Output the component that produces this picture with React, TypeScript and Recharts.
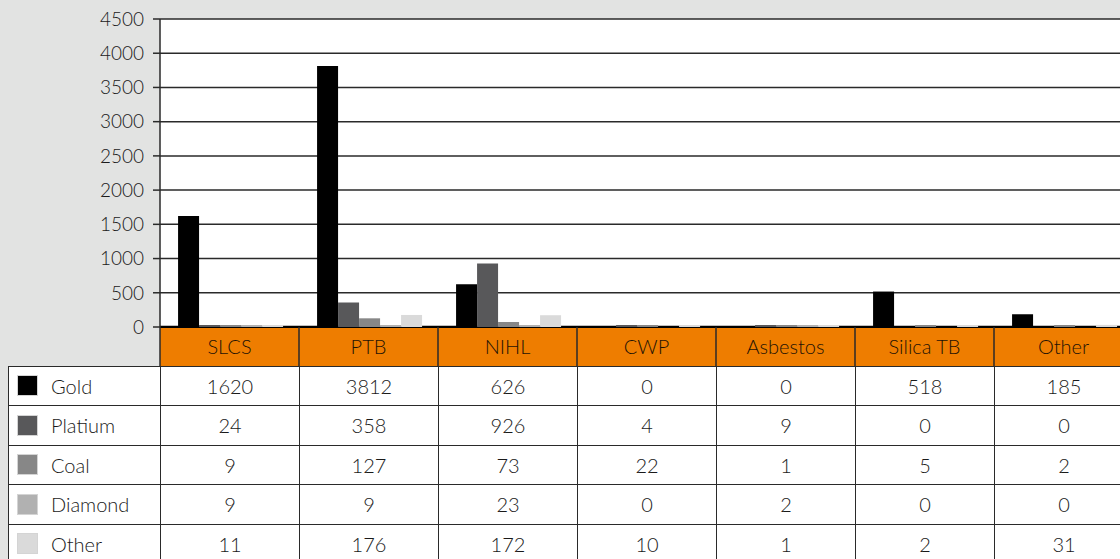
import { BarChart, Bar, XAxis, YAxis, CartesianGrid } from "recharts"

const diseases = ["SLCS", "PTB", "NIHL", "CWP", "Asbestos", "Silica TB", "Other"]
const gold = [1620, 3812, 626, 0, 0, 518, 185]
const platium = [24, 358, 926, 4, 9, 0, 0]
const coal = [9, 127, 73, 22, 1, 5, 2]
const diamond = [9, 9, 23, 0, 2, 0, 0]
const other = [11, 176, 172, 10, 1, 2, 31]
const yTicks = [0, 500, 1000, 1500, 2000, 2500, 3000, 3500, 4000, 4500]

const series = [
  { key: "gold", name: "Gold", values: gold, color: "#000000" },
  { key: "platium", name: "Platium", values: platium, color: "#58585a" },
  { key: "coal", name: "Coal", values: coal, color: "#878787" },
  { key: "diamond", name: "Diamond", values: diamond, color: "#b1b1b1" },
  { key: "other", name: "Other", values: other, color: "#dadada" },
]

const data = diseases.map((d, i) => {
  const row: Record<string, string | number> = { disease: d }
  series.forEach((s) => (row[s.key] = s.values[i]))
  return row
})

const FONT = "Lato, 'Open Sans', sans-serif"
const WEIGHT = 300
const TEXT = "#1a1a1a"
const LINE = "#2a2a2a"
const ORANGE = "#ee7d00"
const Y_AXIS_W = 160
const COL_W = 139
const HEADER_H = 40
const ROW_H = 39.5
const CHART_W = Y_AXIS_W + COL_W * diseases.length + 1

function HeaderTick(props: any) {
  const { x, y, payload } = props
  const left = x - COL_W / 2
  return (
    <g>
      <rect x={left} y={y + 1} width={COL_W} height={HEADER_H} fill={ORANGE} />
      <line x1={left} y1={y} x2={left} y2={y + HEADER_H} stroke={LINE} strokeWidth={1.5} />
      <text
        x={x}
        y={y + 27}
        textAnchor="middle"
        fill="#1f1305"
        fontSize={20}
        fontWeight={WEIGHT}
        fontFamily={FONT}
      >
        {payload.value}
      </text>
    </g>
  )
}

function GridLine(p: any) {
  const isBase = Math.abs(p.y1 - (p.y + p.height)) < 1
  return (
    <line
      key={`h-${p.index}`}
      x1={p.x1}
      y1={p.y1}
      x2={p.x2}
      y2={p.y2}
      stroke={isBase ? "#000" : LINE}
      strokeWidth={isBase ? 2.5 : 1.5}
    />
  )
}

const cell: React.CSSProperties = {
  width: COL_W,
  height: ROW_H,
  flex: "none",
  borderLeft: `1.5px solid ${LINE}`,
  borderTop: `1.5px solid ${LINE}`,
  boxSizing: "border-box",
  display: "flex",
  alignItems: "center",
  justifyContent: "center",
  fontSize: 20,
  fontWeight: WEIGHT,
  color: TEXT,
  background: "#fff",
}

export default function App() {
  return (
    <div
      style={{
        position: "fixed",
        left: 0,
        top: 0,
        width: 1120,
        height: 559,
        overflow: "hidden",
        background: "#e2e3e2",
        fontFamily: FONT,
      }}
    >
      <BarChart
        width={CHART_W}
        height={367}
        data={data}
        margin={{ top: 19, right: 1, left: 0, bottom: 0 }}
        barCategoryGap="13%"
        barGap={0}
      >
        <CartesianGrid vertical={false} fill="#fff" horizontal={GridLine} />
        <XAxis
          dataKey="disease"
          height={HEADER_H}
          axisLine={false}
          tickLine={false}
          tickSize={0}
          tickMargin={0}
          interval={0}
          tick={<HeaderTick />}
        />
        <YAxis
          width={Y_AXIS_W}
          domain={[0, 4500]}
          ticks={yTicks}
          interval={0}
          tickSize={7}
          tickMargin={9}
          axisLine={{ stroke: LINE, strokeWidth: 1.5 }}
          tickLine={{ stroke: LINE, strokeWidth: 1.5 }}
          tick={{ fill: TEXT, fontSize: 19, fontWeight: WEIGHT, fontFamily: FONT }}
        />
        {series.map((s) => (
          <Bar
            key={s.key}
            dataKey={s.key}
            name={s.name}
            fill={s.color}
            minPointSize={(v: number) => (v > 0 ? 2 : 0)}
            isAnimationActive={false}
          />
        ))}
      </BarChart>
      <div style={{ position: "absolute", left: 8, top: 365.5 }}>
        {series.map((s) => (
          <div key={s.key} style={{ display: "flex", height: ROW_H }}>
            <div style={{ ...cell, width: Y_AXIS_W - 8, justifyContent: "flex-start" }}>
              <span
                style={{
                  display: "inline-block",
                  width: 21,
                  height: 21,
                  marginLeft: 8,
                  marginRight: 13,
                  background: s.color,
                  border: "1px solid #d4d4d4",
                  boxSizing: "border-box",
                }}
              />
              {s.name}
            </div>
            {s.values.map((v, i) => (
              <div key={i} style={cell}>
                {v}
              </div>
            ))}
          </div>
        ))}
      </div>
    </div>
  )
}
